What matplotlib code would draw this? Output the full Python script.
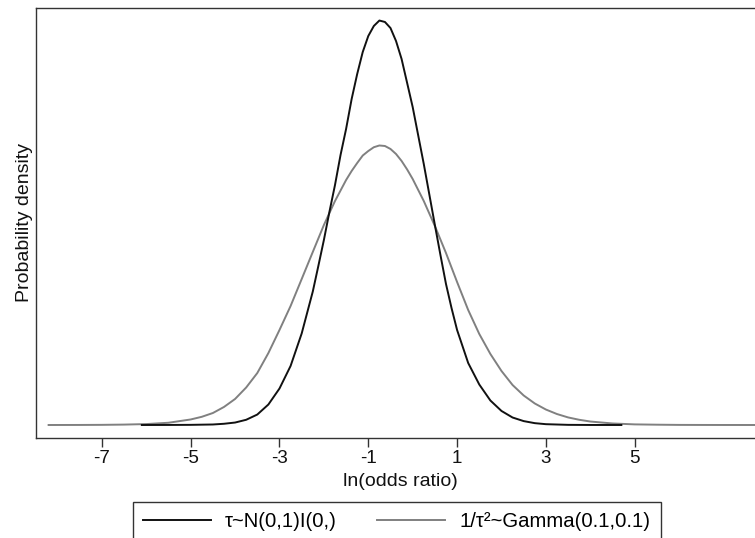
import matplotlib
matplotlib.use("Agg")
import matplotlib.pyplot as plt

plt.rcParams["font.family"] = ["Liberation Sans", "DejaVu Sans"]

# posterior density of ln(odds ratio)
x_halfnormal = [-6.1, -5.5, -5.0, -4.5, -4.25, -4.0, -3.75, -3.5, -3.25, -3.0,
                -2.75, -2.5, -2.25, -2.125, -2.0, -1.875, -1.75, -1.625, -1.5,
                -1.375, -1.25, -1.125, -1.0, -0.875, -0.75, -0.625, -0.5,
                -0.375, -0.25, -0.125, 0.0, 0.125, 0.25, 0.375, 0.5, 0.625,
                0.75, 0.875, 1.0, 1.25, 1.5, 1.75, 2.0, 2.25, 2.5, 2.75, 3.0,
                3.5, 4.0, 4.7]
y_halfnormal = [0.0, 0.00005, 0.00015, 0.0005, 0.0012, 0.0024, 0.0051, 0.0102,
                0.0200, 0.0356, 0.0576, 0.0893, 0.1302, 0.1551, 0.1805, 0.2080,
                0.2341, 0.2634, 0.2888, 0.3180, 0.3424, 0.3639, 0.3795, 0.3893,
                0.3946, 0.3932, 0.3873, 0.3746, 0.3571, 0.3337, 0.3102, 0.2824,
                0.2546, 0.2249, 0.1951, 0.1659, 0.1376, 0.1141, 0.0927, 0.0605,
                0.0395, 0.0239, 0.0137, 0.0073, 0.0038, 0.0018, 0.0008,
                0.00015, 0.00003, 0.0]

x_gamma = [-8.2, -7.5, -7.0, -6.5, -6.0, -5.5, -5.0, -4.75, -4.5, -4.25, -4.0,
           -3.75, -3.5, -3.25, -3.0, -2.75, -2.5, -2.25, -2.0, -1.75, -1.5,
           -1.375, -1.25, -1.125, -1.0, -0.875, -0.75, -0.625, -0.5, -0.375,
           -0.25, -0.125, 0.0, 0.25, 0.5, 0.75, 1.0, 1.25, 1.5, 1.75, 2.0,
           2.25, 2.5, 2.75, 3.0, 3.25, 3.5, 3.75, 4.0, 4.5, 5.0, 5.5, 6.0,
           6.5, 7.0, 7.8]
y_gamma = [0.0, 0.00005, 0.00015, 0.0004, 0.0009, 0.0022, 0.0054, 0.0080,
           0.0117, 0.0176, 0.0254, 0.0366, 0.0507, 0.0702, 0.0927, 0.1161,
           0.1424, 0.1688, 0.1951, 0.2185, 0.2390, 0.2478, 0.2556, 0.2629,
           0.2673, 0.2710, 0.2727, 0.2722, 0.2693, 0.2644, 0.2576, 0.2493,
           0.2400, 0.2185, 0.1941, 0.1678, 0.1395, 0.1122, 0.0888, 0.0693,
           0.0527, 0.0390, 0.0288, 0.0210, 0.0151, 0.0107, 0.0074, 0.0051,
           0.0034, 0.0015, 0.0006, 0.0003, 0.0001, 0.00005, 0.00002, 0.0]

xticks = [-7, -5, -3, -1, 1, 3, 5]
label_halfnormal = "τ~N(0,1)I(0,)"
label_gamma = "1/τ²~Gamma(0.1,0.1)"

fig = plt.figure(figsize=(7.55, 5.38), dpi=100)
ax = fig.add_axes([36 / 755, 1 - 437.7 / 538, 721 / 755, 429.7 / 538])

line_g, = ax.plot(x_gamma, y_gamma, color="#808080", lw=1.4,
                  label=label_gamma)
line_h, = ax.plot(x_halfnormal, y_halfnormal, color="#111111", lw=1.4,
                  label=label_halfnormal)

ax.set_xlim(-8.484, 7.755)
ax.set_ylim(-0.01239, 0.40683)
ax.set_xticks(xticks)
ax.set_xticklabels([str(t) for t in xticks])
ax.set_yticks([])
ax.tick_params(axis="x", direction="out", length=6.5, width=1.0,
               color="#333333", labelsize=13.5, pad=2, labelcolor="#111111")
for side in ["left", "bottom", "top", "right"]:
    ax.spines[side].set_color("#333333")
    ax.spines[side].set_linewidth(1.0)

ax.set_xlabel("ln(odds ratio)", fontsize=14, labelpad=0, color="#111111")
ax.xaxis.set_label_coords(0.506, -0.082)
ax.set_ylabel("Probability density", fontsize=14, color="#111111")
ax.yaxis.set_label_coords(-0.004, 0.5)

leg = fig.legend(handles=[line_h, line_g], loc="upper left",
                 bbox_to_anchor=(132.7 / 755, 1 - 502.3 / 538), ncol=2,
                 fontsize=14.6, frameon=True, fancybox=False, borderpad=0.5,
                 borderaxespad=0, handlelength=3.35, handletextpad=0.7,
                 columnspacing=2.0)
leg.get_frame().set_edgecolor("#333333")
leg.get_frame().set_linewidth(1.0)
leg.get_frame().set_alpha(1)

fig.savefig("out.png", dpi=100)
